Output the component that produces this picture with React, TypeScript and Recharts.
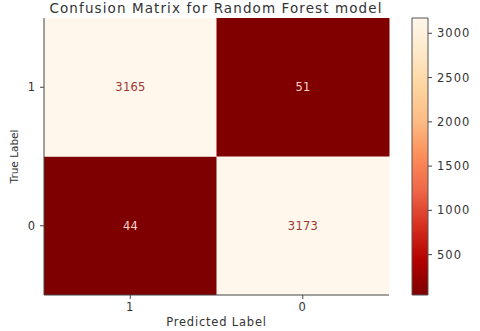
import React from "react";
import { BarChart, Bar, XAxis, YAxis, Cell, LabelList, Label } from "recharts";

const predictedLabels = ["1", "0"];
const trueLabels = ["0", "1"]; // bottom to top
const rowTrue1 = [3165, 51];
const rowTrue0 = [44, 3173];
const colorbarTicks = [500, 1000, 1500, 2000, 2500, 3000];
const title = "Confusion Matrix for Random Forest model";

const allVals = [...rowTrue1, ...rowTrue0];
const vMin = Math.min(...allVals);
const vMax = Math.max(...allVals);

// OrRd reversed: low -> dark red, high -> cream
const orrd = ["#fff7ec", "#fee8c8", "#fdd49e", "#fdbb84", "#fc8d59", "#ef6548", "#d7301f", "#b30000", "#7f0000"];
const stopsLowToHigh = [...orrd].reverse();

function hexToRgb(h: string) {
  return [parseInt(h.slice(1, 3), 16), parseInt(h.slice(3, 5), 16), parseInt(h.slice(5, 7), 16)];
}
function colorFor(v: number) {
  const t = (v - vMin) / (vMax - vMin);
  const pos = t * (stopsLowToHigh.length - 1);
  const i = Math.min(Math.floor(pos), stopsLowToHigh.length - 2);
  const f = pos - i;
  const a = hexToRgb(stopsLowToHigh[i]);
  const b = hexToRgb(stopsLowToHigh[i + 1]);
  const c = a.map((x, k) => Math.round(x + (b[k] - x) * f));
  return `rgb(${c[0]},${c[1]},${c[2]})`;
}
function textColorFor(v: number) {
  const t = (v - vMin) / (vMax - vMin);
  return t > 0.5 ? "#a03535" : "#f2d3cc";
}

const data = predictedLabels.map((p, i) => ({
  pred: p,
  row0: 1,
  row1: 1,
  v0: rowTrue0[i],
  v1: rowTrue1[i],
}));

const colorbarData = [{ name: "cb", range: [vMin, vMax] }];

const font = "'DejaVu Sans', sans-serif";
const tickStyle = { fontSize: 11.5, fill: "#333", fontFamily: font, letterSpacing: 1 };

const makeLabel = (key: "v0" | "v1") => (props: any) => {
  const { x, y, width, height, index } = props;
  const v = data[index][key];
  return (
    <text
      x={x + width / 2}
      y={y + height / 2}
      textAnchor="middle"
      dominantBaseline="central"
      fontSize={11.5}
      letterSpacing={0.3}
      fontFamily={font}
      fill={textColorFor(v)}
    >
      {v}
    </text>
  );
};

export default function App() {
  return (
    <div style={{ position: "absolute", left: 0, top: 0, width: 480, height: 331, background: "#fff" }}>
      <div
        style={{
          position: "absolute",
          left: 0,
          top: 0,
          width: 432,
          textAlign: "center",
          fontFamily: font,
          fontSize: 13.5,
          color: "#333",
          lineHeight: "16px",
          letterSpacing: 1.1,
        }}
      >
        {title}
      </div>
      <div style={{ position: "absolute", left: 0, top: 0 }}>
        <BarChart
          width={480}
          height={331}
          data={data}
          margin={{ top: 18, right: 91, bottom: 0, left: 0 }}
          barCategoryGap={0}
          barGap={0}
        >
          <XAxis
            dataKey="pred"
            height={36}
            tick={tickStyle}
            tickSize={4}
            tickMargin={4}
            tickLine={{ stroke: "#444" }}
            axisLine={{ stroke: "#444" }}
          >
            <Label value="Predicted Label" position="insideBottom" offset={5} style={{ fontSize: 11.5, fill: "#333", fontFamily: font, letterSpacing: 0.8 }} />
          </XAxis>
          <XAxis xAxisId="top" orientation="top" dataKey="pred" height={0} tick={false} tickLine={false} axisLine={{ stroke: "#444" }} />
          <YAxis
            type="number"
            domain={[0, 2]}
            ticks={[0.5, 1.5]}
            tickFormatter={(v: number) => trueLabels[Math.floor(v)]}
            width={44}
            tick={tickStyle}
            tickSize={4}
            tickMargin={4}
            tickLine={{ stroke: "#444" }}
            axisLine={{ stroke: "#444" }}
          >
            <Label value="True Label" angle={-90} position="insideLeft" offset={14} style={{ fontSize: 10.5, fill: "#333", fontFamily: font, textAnchor: "middle" }} />
          </YAxis>
          <YAxis yAxisId="right" orientation="right" width={0} domain={[0, 2]} tick={false} tickLine={false} axisLine={{ stroke: "#444" }} />
          <Bar dataKey="row0" stackId="a" isAnimationActive={false}>
            {data.map((d, i) => (
              <Cell key={i} fill={colorFor(d.v0)} />
            ))}
            <LabelList dataKey="v0" content={makeLabel("v0")} />
          </Bar>
          <Bar dataKey="row1" stackId="a" isAnimationActive={false}>
            {data.map((d, i) => (
              <Cell key={i} fill={colorFor(d.v1)} />
            ))}
            <LabelList dataKey="v1" content={makeLabel("v1")} />
          </Bar>
        </BarChart>
      </div>
      <div style={{ position: "absolute", left: 400, top: 0 }}>
        <BarChart
          width={80}
          height={331}
          data={colorbarData}
          margin={{ top: 18, right: 0, bottom: 36, left: 12 }}
          barCategoryGap={0}
        >
          <defs>
            <linearGradient id="cbGrad" x1="0" y1="1" x2="0" y2="0">
              {stopsLowToHigh.map((c, i) => (
                <stop key={i} offset={i / (stopsLowToHigh.length - 1)} stopColor={c} />
              ))}
            </linearGradient>
          </defs>
          <XAxis dataKey="name" hide />
          <YAxis
            orientation="right"
            type="number"
            domain={[vMin, vMax]}
            ticks={colorbarTicks}
            width={52}
            tick={tickStyle}
            tickSize={4}
            tickMargin={5}
            tickLine={{ stroke: "#444" }}
            axisLine={false}
          />
          <Bar dataKey="range" fill="url(#cbGrad)" stroke="#555" strokeWidth={1} isAnimationActive={false} />
        </BarChart>
      </div>
    </div>
  );
}
